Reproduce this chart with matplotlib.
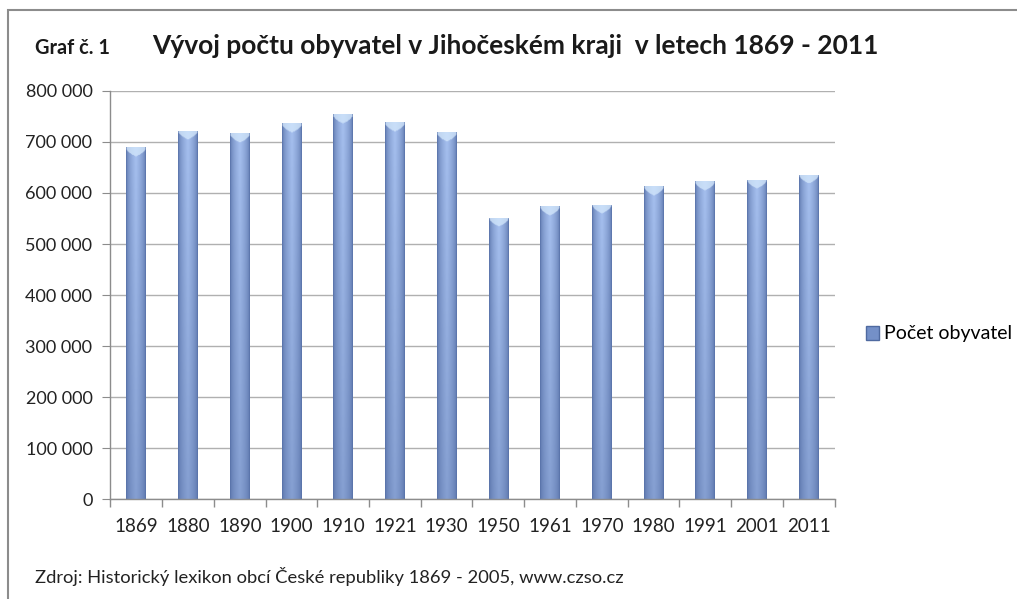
import numpy as np
import matplotlib
matplotlib.use("Agg")
import matplotlib.pyplot as plt
from matplotlib.patches import Patch, Rectangle
from matplotlib.ticker import FuncFormatter

# census years and population of the South Bohemian region
years = ['1869', '1880', '1890', '1900', '1910', '1921', '1930',
         '1950', '1961', '1970', '1980', '1991', '2001', '2011']
population = [690000, 722000, 717000, 737000, 754000, 739000, 719000,
              551000, 574000, 577000, 613000, 623000, 626000, 636000]

title = 'Vývoj počtu obyvatel v Jihočeském kraji  v letech 1869 - 2011'
graf_label = 'Graf č. 1'
series_name = 'Počet obyvatel'
source = 'Zdroj: Historický lexikon obcí České republiky 1869 - 2005, www.czso.cz'

plt.rcParams['font.family'] = ['Lato', 'DejaVu Sans']

W, H = 1017, 599
fig = plt.figure(figsize=(W / 100, H / 100), dpi=100)
ax = fig.add_axes([0.1086, 0.1669, 0.7120, 0.6812])

x = np.arange(len(years))
bars = ax.bar(x, population, width=0.38, color='none', edgecolor='none', zorder=2)

# cylinder-like shading: dark edges, light centre, lighter towards the top
dark = np.array([0x55, 0x6f, 0xa6]) / 255
light = np.array([0xa6, 0xc0, 0xef]) / 255
cap = np.array([0xd2, 0xe6, 0xfb]) / 255
nx, ny = 40, 400
u = np.linspace(0, 1, nx)
prof = (1 - np.abs(2 * u - 1)) ** 0.5
for b in bars:
    x0, w, h = b.get_x(), b.get_width(), b.get_height()
    v = np.linspace(0, 1, ny)[:, None]          # 0 bottom, 1 top
    t = prof[None, :] * (0.6 + 0.4 * v)
    img = dark + (light - dark) * t[..., None]
    # light chevron cap at the top of the bar
    top_px = (1 - v) * h * 408 / 800000
    capmask = top_px < 9 * (1 - np.abs(2 * u - 1)[None, :]) ** 0.5
    img[capmask] = cap * 0.8 + img[capmask] * 0.2
    im = ax.imshow(img, extent=(x0, x0 + w, 0, h), origin='lower',
                   aspect='auto', interpolation='bilinear', zorder=2)
    im.set_clip_path(b)

ax.set_xlim(-0.5, len(years) - 0.5)
ax.set_ylim(0, 800000)
ax.set_yticks(np.arange(0, 800001, 100000))
ax.yaxis.set_major_formatter(FuncFormatter(lambda v, p: f'{int(v):,}'.replace(',', ' ')))
ax.set_xticks(x)
ax.set_xticklabels(years)
ax.set_xticks(np.arange(-0.5, len(years)), minor=True)
ax.tick_params(axis='x', which='major', length=0, labelsize=13.5, pad=14, colors='#222222')
ax.tick_params(axis='x', which='minor', length=6, color='#8c8c8c', width=1)
ax.tick_params(axis='y', length=6, color='#8c8c8c', labelsize=13, pad=7, labelcolor='#222222')

ax.grid(axis='y', color='#b0b0b0', linewidth=1.0, zorder=0)
ax.set_axisbelow(True)
for s in ['top', 'right']:
    ax.spines[s].set_visible(False)
for s in ['left', 'bottom']:
    ax.spines[s].set_color('#8c8c8c')
    ax.spines[s].set_linewidth(1.0)

# outer chart frame
fig.patches.append(Rectangle((8 / W, -0.05), 1.2, 1 - 10 / H + 0.05,
                             transform=fig.transFigure, fill=False,
                             edgecolor='#8c8c8c', linewidth=1.5))


def fitted_text(x0, yc, s, target_w, **kw):
    # scale font size so the text spans the same width as in the reference
    t = fig.text(x0 / W, 1 - yc / H, s, va='center', ha='left', **kw)
    r = fig.canvas.get_renderer()
    cur = t.get_window_extent(r).width
    t.set_fontsize(t.get_fontsize() * target_w / cur)
    return t


fitted_text(35, 48, graf_label, 75, fontsize=13, fontweight='bold', color='#1a1a1a')
fitted_text(152, 46, title, 728, fontsize=19, fontweight='bold', color='#1a1a1a')
fitted_text(35, 576, source, 593, fontsize=14, color='#222222')

handle = Patch(facecolor='#7490c8', edgecolor='#4f6aa0')
fig.legend([handle], [series_name], loc='center left',
           bbox_to_anchor=(848 / W, 1 - 334 / H), frameon=False,
           handlelength=0.7, handleheight=0.7, handletextpad=0.25,
           prop={'size': 14})

fig.savefig('out.png', dpi=100, facecolor='white')
